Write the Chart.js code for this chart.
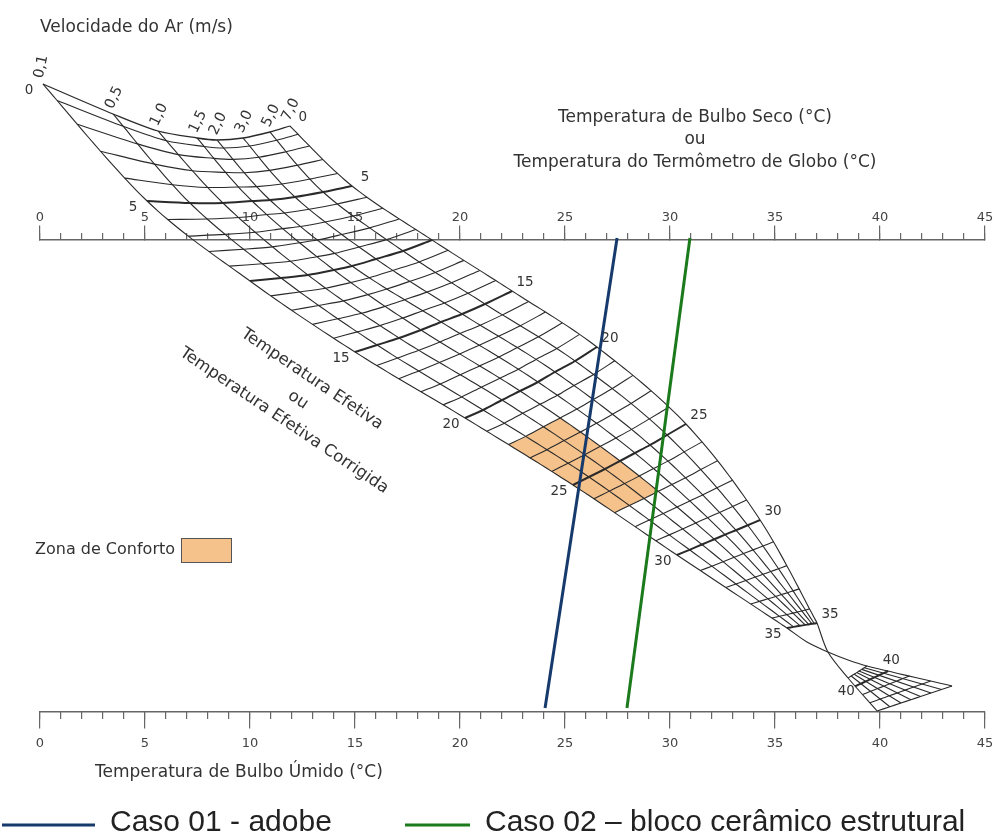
<!DOCTYPE html>
<html lang="pt-BR">
<head>
<meta charset="utf-8">
<title>Nomograma de Temperatura Efetiva</title>
<script src="https://cdn.jsdelivr.net/npm/chart.js@4.4.1/dist/chart.umd.min.js"></script>
<style>
  html, body { margin: 0; padding: 0; background: #fff; }
  #wrap { width: 996px; height: 838px; }
</style>
</head>
<body>
<div id="wrap"><canvas id="nomograma" width="996" height="838"></canvas></div>
<script>
// Curvas de velocidade do ar (m/s)
const velocidades = ["0,1", "0,5", "1,0", "1,5", "2,0", "3,0", "5,0", "7,0"];

// Linhas principais de Temperatura Efetiva (°C)
const etPrincipais = [0, 5, 10, 15, 20, 25, 30, 35];

// Nós de cada curva de velocidade sobre as linhas principais de TE
// x = °C na escala horizontal, y = altura no nomograma (0 = escala de bulbo úmido, 118 = escala de bulbo seco)
const et0X  = [0.14, 3.48, 5.62, 7.48, 8.43, 9.67, 10.95, 11.90];
const et0Y  = [157.0, 149.5, 145.25, 143.5, 143.0, 143.5, 145.0, 146.5];
const et5X  = [5.10, 7.14, 8.71, 10.10, 10.95, 12.14, 13.48, 14.86];
const et5Y  = [127.75, 127.25, 127.25, 127.75, 128.0, 128.75, 130.0, 131.5];
const et10X = [10.00, 11.48, 12.76, 14.00, 14.86, 16.00, 17.29, 18.67];
const et10Y = [107.75, 108.5, 109.25, 110.5, 111.5, 113.25, 115.25, 118.0];
const et15X = [15.00, 16.05, 17.10, 18.14, 19.10, 20.10, 21.19, 22.48];
const et15Y = [90.0, 91.75, 93.5, 95.5, 97.5, 99.5, 102.0, 105.25];
const et20X = [20.24, 21.10, 22.00, 22.86, 23.71, 24.52, 25.48, 26.52];
const et20Y = [73.5, 75.5, 78.0, 80.25, 82.5, 85.0, 87.75, 91.25];
const et25X = [25.38, 26.14, 26.90, 27.62, 28.33, 29.05, 29.86, 30.76];
const et25Y = [56.75, 58.75, 60.75, 62.75, 64.75, 66.75, 69.25, 72.0];
const et30X = [30.33, 30.93, 31.52, 32.11, 32.62, 33.14, 33.70, 34.29];
const et30Y = [39.25, 40.55, 41.88, 43.18, 44.33, 45.45, 46.68, 48.0];
const et35X = [35.57, 35.89, 36.20, 36.44, 36.60, 36.76, 36.87, 37.00];
const et35Y = [21.0, 21.28, 21.55, 21.78, 21.9, 22.05, 22.13, 22.25];

// Leque acima de 37 °C (as curvas se cruzam e invertem a ordem)
const et39X = [39.38, 39.25, 39.13, 39.00, 38.89, 38.77, 38.63, 38.48];
const et39Y = [11.5, 11.08, 10.66, 10.24, 9.85, 9.46, 9.01, 8.5];
const et43X = [43.43, 42.93, 42.43, 41.93, 41.47, 41.00, 40.47, 39.86];
const et43Y = [6.5, 5.63, 4.75, 3.88, 3.06, 2.25, 1.31, 0.25];

// Trechos das curvas extremas (0,1 e 7,0) entre TE 35 e o leque
const cruz01X = [36.52, 37.52, 38.48];
const cruz01Y = [17.5, 15.0, 13.0];
const cruz70X = [37.52];
const cruz70Y = [15.0];

// Rótulos de TE nas extremidades das linhas
const rotulosET = [0, 5, 15, 20, 25, 30, 35, 40];

// Zona de conforto (TE de 22 a 27 °C, velocidades de 0,1 a 1,5 m/s)
const confortoET = [22, 27];
const confortoVel = ["0,1", "1,5"];

// Casos analisados: bulbo seco (escala superior) ligado ao bulbo úmido (escala inferior)
const casos = ["Caso 01 - adobe", "Caso 02 \u2013 bloco cer\u00e2mico estrutural"];
const casosBulboSeco = [27.48, 30.95];
const casosBulboUmido = [24.05, 27.95];
const casosCores = ["#163a6c", "#1b7a1b"];

const ESCALA_SUP = 118;   // altura da escala de bulbo seco
const ESCALA_INF = 0;     // altura da escala de bulbo úmido

const linhasX = [et0X, et5X, et10X, et15X, et20X, et25X, et30X, et35X];
const linhasY = [et0Y, et5Y, et10Y, et15Y, et20Y, et25Y, et30Y, et35Y];

const COR_GRADE = "#2a2a2a";
const FONTE = "'DejaVu Sans', Verdana, sans-serif";

function catmull(p0, p1, p2, p3, s) {
    const s2 = s * s, s3 = s2 * s;
    return 0.5 * (2 * p1 + (p2 - p0) * s + (2 * p0 - 5 * p1 + 4 * p2 - p3) * s2 + (3 * p1 - p0 - 3 * p2 + p3) * s3);
}

// posição da curva de velocidade i sobre a linha de TE t
function no(t, i) {
    if (t >= 39) {
        const k = (t - 39) / 4;
        return { x: et39X[i] + (et43X[i] - et39X[i]) * k, y: et39Y[i] + (et43Y[i] - et39Y[i]) * k };
    }
    const n = etPrincipais.length;
    const j = Math.min(Math.floor(t / 5), n - 2);
    const s = (t - etPrincipais[j]) / 5;
    const a = Math.max(j - 1, 0), d = Math.min(j + 2, n - 1);
    return {
        x: catmull(linhasX[a][i], linhasX[j][i], linhasX[j + 1][i], linhasX[d][i], s),
        y: catmull(linhasY[a][i], linhasY[j][i], linhasY[j + 1][i], linhasY[d][i], s)
    };
}

const datasets = [];

function linha(data, width, extra) {
    return Object.assign({
        data: data,
        borderColor: COR_GRADE,
        borderWidth: width,
        pointRadius: 0,
        fill: false,
        tension: 0.3,
        clip: false,
        order: 5
    }, extra || {});
}

function espessuraET(t) {
    if (t === 0) return 1.3;
    return t % 5 === 0 ? 2 : 1.1;
}

// linhas de TE (a cada 1 °C, destaque a cada 5 °C)
for (let t = 0; t <= 35; t++) {
    datasets.push(linha(velocidades.map((v, i) => no(t, i)), espessuraET(t)));
}
for (let t = 39; t <= 43; t++) {
    datasets.push(linha(velocidades.map((v, i) => no(t, i)), espessuraET(t)));
}

// curvas de velocidade
velocidades.forEach((v, i) => {
    const pts = [];
    for (let t = 0; t <= 35; t += 0.5) pts.push(no(t, i));
    if (i === 0) {
        cruz01X.forEach((x, k) => pts.push({ x: x, y: cruz01Y[k] }));
        pts.push(no(39, i), no(43, i));
    } else if (i === velocidades.length - 1) {
        cruz70X.forEach((x, k) => pts.push({ x: x, y: cruz70Y[k] }));
        pts.push(no(39, i), no(43, i));
    } else {
        datasets.push(linha([no(39, i), no(43, i)], 1.1, { tension: 0 }));
    }
    datasets.push(linha(pts, 1.1));
});

// zona de conforto
(function () {
    const i0 = velocidades.indexOf(confortoVel[0]);
    const i1 = velocidades.indexOf(confortoVel[1]);
    const [t0, t1] = confortoET;
    const pts = [];
    for (let t = t0; t <= t1; t++) pts.push(no(t, i0));
    for (let i = i0; i <= i1; i++) pts.push(no(t1, i));
    for (let t = t1; t >= t0; t--) pts.push(no(t, i1));
    for (let i = i1; i >= i0; i--) pts.push(no(t0, i));
    datasets.push({
        label: "Zona de Conforto",
        data: pts,
        borderWidth: 0,
        borderColor: "rgba(0,0,0,0)",
        backgroundColor: "#f6c28c",
        pointRadius: 0,
        tension: 0,
        fill: "shape",
        clip: false,
        order: 10
    });
})();

// casos
casos.forEach((nome, k) => {
    datasets.push({
        label: nome,
        caso: true,
        data: [{ x: casosBulboSeco[k], y: ESCALA_SUP + 0.5 }, { x: casosBulboUmido[k], y: ESCALA_INF + 1 }],
        borderColor: casosCores[k],
        backgroundColor: casosCores[k],
        borderWidth: 3,
        pointRadius: 0,
        tension: 0,
        fill: false,
        clip: false,
        order: k
    });
});

function semMargem(scale) {
    scale.paddingLeft = 0;
    scale.paddingRight = 0;
}

function eixo(posY, passo, comprimento, principal, padding) {
    return {
        type: "linear",
        axis: "x",
        min: 0,
        max: 45,
        position: { y: posY },
        afterFit: semMargem,
        ticks: {
            stepSize: passo,
            autoSkip: false,
            includeBounds: false,
            maxRotation: 0,
            padding: padding,
            color: principal ? "#444" : "rgba(0,0,0,0)",
            font: { family: FONTE, size: 13 }
        },
        grid: { drawOnChartArea: false, drawTicks: true, tickLength: comprimento, color: "#666", lineWidth: 1.2 },
        border: { display: principal, color: "#666", width: 1.5 }
    };
}

const textos = {
    id: "textos",
    afterDatasetsDraw(chart) {
        const { ctx, scales: { x, y } } = chart;
        const px = p => [x.getPixelForValue(p.x), y.getPixelForValue(p.y)];
        ctx.save();
        ctx.fillStyle = "#333";

        // velocidades ao longo da linha TE 0
        ctx.font = "14.5px " + FONTE;
        ctx.textAlign = "left";
        ctx.textBaseline = "middle";
        velocidades.forEach((v, i) => {
            const [X, Y] = px(no(0, i));
            ctx.save();
            ctx.translate(X - 4, Y - 6);
            ctx.rotate((i === 0 ? -78 : -64) * Math.PI / 180);
            ctx.fillText(v, 0, 0);
            ctx.restore();
        });

        // valores de TE nas extremidades
        ctx.font = "13.5px " + FONTE;
        ctx.textAlign = "center";
        rotulosET.forEach(t => {
            let a, b;
            if (t >= 39) {
                a = px(no(t, velocidades.length - 1)); a[0] -= 9; a[1] += 5;
                b = px(no(t, 0)); b[0] += 3; b[1] -= 11;
            } else {
                a = px(no(t, 0)); a[0] -= 14; a[1] += 6;
                b = px(no(t, velocidades.length - 1)); b[0] += 13; b[1] -= 9;
            }
            ctx.fillText(String(t), a[0], a[1]);
            ctx.fillText(String(t), b[0], b[1]);
        });

        // títulos
        ctx.font = "17px " + FONTE;
        ctx.textAlign = "left";
        ctx.fillText("Velocidade do Ar (m/s)", 40, 28);
        ctx.fillText("Temperatura de Bulbo \u00damido (\u00b0C)", 95, 773);
        ctx.textAlign = "center";
        ctx.fillText("Temperatura de Bulbo Seco (\u00b0C)", 695, 118);
        ctx.fillText("ou", 695, 140);
        ctx.fillText("Temperatura do Term\u00f4metro de Globo (\u00b0C)", 695, 163);

        ctx.font = "16.5px " + FONTE;
        ctx.save();
        ctx.translate(298, 400);
        ctx.rotate(34 * Math.PI / 180);
        ctx.fillText("Temperatura Efetiva", 0, -25);
        ctx.fillText("ou", 0, 0);
        ctx.fillText("Temperatura Efetiva Corrigida", 0, 25);
        ctx.restore();

        // legenda da zona de conforto
        const zona = chart.data.datasets.find(d => d.label === "Zona de Conforto");
        ctx.textAlign = "left";
        ctx.font = "16px " + FONTE;
        ctx.fillText(zona.label, 35, 550);
        ctx.fillStyle = zona.backgroundColor;
        ctx.fillRect(181, 538, 50, 24);
        ctx.strokeStyle = "#555";
        ctx.lineWidth = 1;
        ctx.strokeRect(181.5, 538.5, 50, 24);

        // legenda dos casos
        const itens = chart.data.datasets.filter(d => d.caso);
        const linhaX = [2, 405], linhaL = [93, 65], textoX = [110, 485];
        ctx.font = "30px 'Liberation Sans', Arial, sans-serif";
        itens.forEach((d, k) => {
            ctx.strokeStyle = d.borderColor;
            ctx.lineWidth = 3;
            ctx.beginPath();
            ctx.moveTo(linhaX[k], 825);
            ctx.lineTo(linhaX[k] + linhaL[k], 825);
            ctx.stroke();
            ctx.fillStyle = "#222";
            ctx.fillText(d.label, textoX[k], 823);
        });
        ctx.restore();
    }
};

new Chart(document.getElementById("nomograma"), {
    type: "line",
    data: { datasets: datasets },
    options: {
        responsive: false,
        animation: false,
        events: [],
        devicePixelRatio: 1,
        layout: { padding: { left: 40, right: 11, top: 0, bottom: 126 } },
        plugins: { legend: { display: false }, tooltip: { enabled: false } },
        scales: {
            x: eixo(ESCALA_INF, 5, 16, true, 8),
            xMenor: eixo(ESCALA_INF, 1, 7, false, 8),
            xSup: eixo(ESCALA_SUP, 5, -15, true, -15),
            xSupMenor: eixo(ESCALA_SUP, 1, -7, false, -15),
            y: { type: "linear", min: 0, max: 178, display: false }
        }
    },
    plugins: [textos]
});
</script>
</body>
</html>
